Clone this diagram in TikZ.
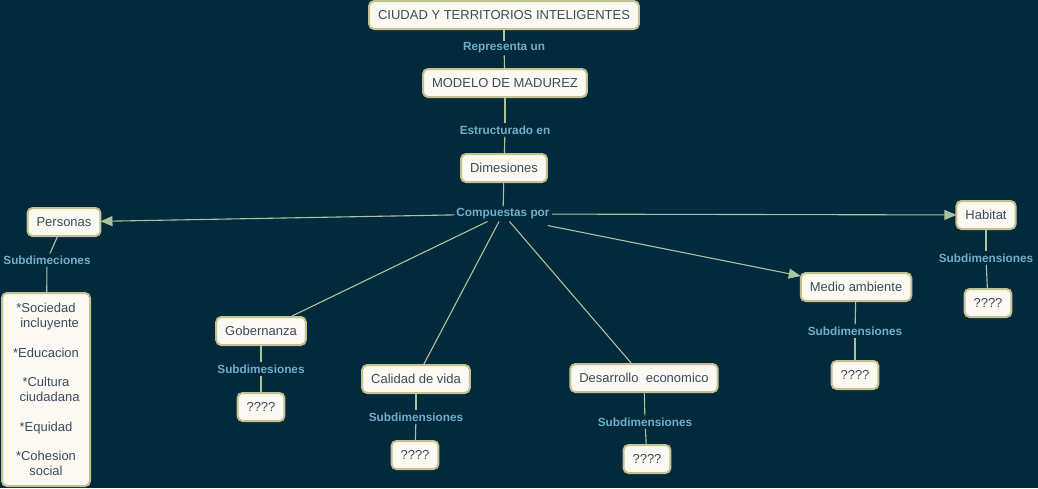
\documentclass[tikz,border=0pt]{standalone}
\usepackage{fontspec}
\setmainfont{Liberation Sans}
\usetikzlibrary{arrows.meta}
\definecolor{bg}{HTML}{03293D}
\definecolor{boxfill}{HTML}{FBF9F2}
\definecolor{boxdraw}{HTML}{C2C291}
\definecolor{boxtext}{HTML}{3B4B5C}
\definecolor{lbl}{HTML}{6EB0C8}
\definecolor{conn}{HTML}{A9C49C}
\tikzset{
  concept/.style={draw=boxdraw, fill=boxfill, line width=2pt, rounded corners=5pt,
    text=boxtext, font=\fontsize{13}{14.8}\selectfont, minimum height=28pt,
    inner xsep=9pt, inner ysep=4pt},
  linklbl/.style={text=lbl, font=\bfseries\fontsize{11.8}{13}\selectfont, inner sep=2pt},
  link/.style={draw=conn, line width=1.1pt},
  arrowlink/.style={link, -{Triangle[length=12pt,width=10pt]}, shorten >=-1pt}
}
\begin{document}
\begin{tikzpicture}[x=1pt,y=-1pt]
\fill[bg] (0,0) rectangle (1038,488);
\useasboundingbox (0,0) rectangle (1038,488);

% top chain
\node[concept] (ciudad) at (504,15) {CIUDAD Y TERRITORIOS INTELIGENTES};
\node[linklbl] (rep) at (504,48) {Representa un};
\node[concept] (modelo) at (505,83) {MODELO DE MADUREZ};
\node[linklbl] (est) at (505,130) {Estructurado en};
\node[concept] (dim) at (504,168) {Dimesiones};
\node[linklbl] (comp) at (503,214) {Compuestas por};

\draw[link] (ciudad) -- (rep);
\draw[link] (rep) -- (modelo);
\draw[link] (modelo) -- (est);
\draw[link] (est) -- (dim);
\draw[link] (dim) -- (comp);

% dimensions
\node[concept] (per) at (64,222) {Personas};
\node[concept] (hab) at (986,215) {Habitat};
\node[concept] (med) at (856,287) {Medio ambiente};
\node[concept] (gob) at (261,331) {Gobernanza};
\node[concept] (cal) at (416,379) {Calidad de vida};
\node[concept] (des) at (644,378) {Desarrollo\ \ economico};

\draw[arrowlink] (comp) -- (per);
\draw[arrowlink] (comp) -- (hab);
\draw[arrowlink] (comp.south east) ++(-4,4) coordinate (cse) (cse) -- (med);
\draw[link] (comp) -- (gob);
\draw[link] (comp) -- (cal);
\draw[link] (comp) -- (des);

% sub-dimensions
\node[linklbl] (sper) at (47,260) {Subdimeciones};
\node[concept, align=center, minimum width=88pt, minimum height=193pt, inner ysep=6pt] (lper) at (46,389.5)
  {*Sociedad\\ \ \ incluyente\\[14.8pt]*Educacion\\[14.8pt]*Cultura\\ \ \ ciudadana\\[14.8pt]*Equidad\\[14.8pt]*Cohesion\\ social};
\draw[link] (per) -- (sper);
\draw[link] (sper) -- (lper);

\node[linklbl] (shab) at (986,258) {Subdimensiones};
\node[concept] (qhab) at (988,303) {????};
\draw[link] (hab) -- (shab);
\draw[link] (shab) -- (qhab);

\node[linklbl] (smed) at (855,331) {Subdimensiones};
\node[concept] (qmed) at (855,375) {????};
\draw[link] (med) -- (smed);
\draw[link] (smed) -- (qmed);

\node[linklbl] (sgob) at (261,369) {Subdimesiones};
\node[concept] (qgob) at (261,407) {????};
\draw[link] (gob) -- (sgob);
\draw[link] (sgob) -- (qgob);

\node[linklbl] (scal) at (416,417) {Subdimensiones};
\node[concept] (qcal) at (415,455) {????};
\draw[link] (cal) -- (scal);
\draw[link] (scal) -- (qcal);

\node[linklbl] (sdes) at (645,422) {Subdimensiones};
\node[concept] (qdes) at (647,459) {????};
\draw[link] (des) -- (sdes);
\draw[link] (sdes) -- (qdes);
\end{tikzpicture}
\end{document}
